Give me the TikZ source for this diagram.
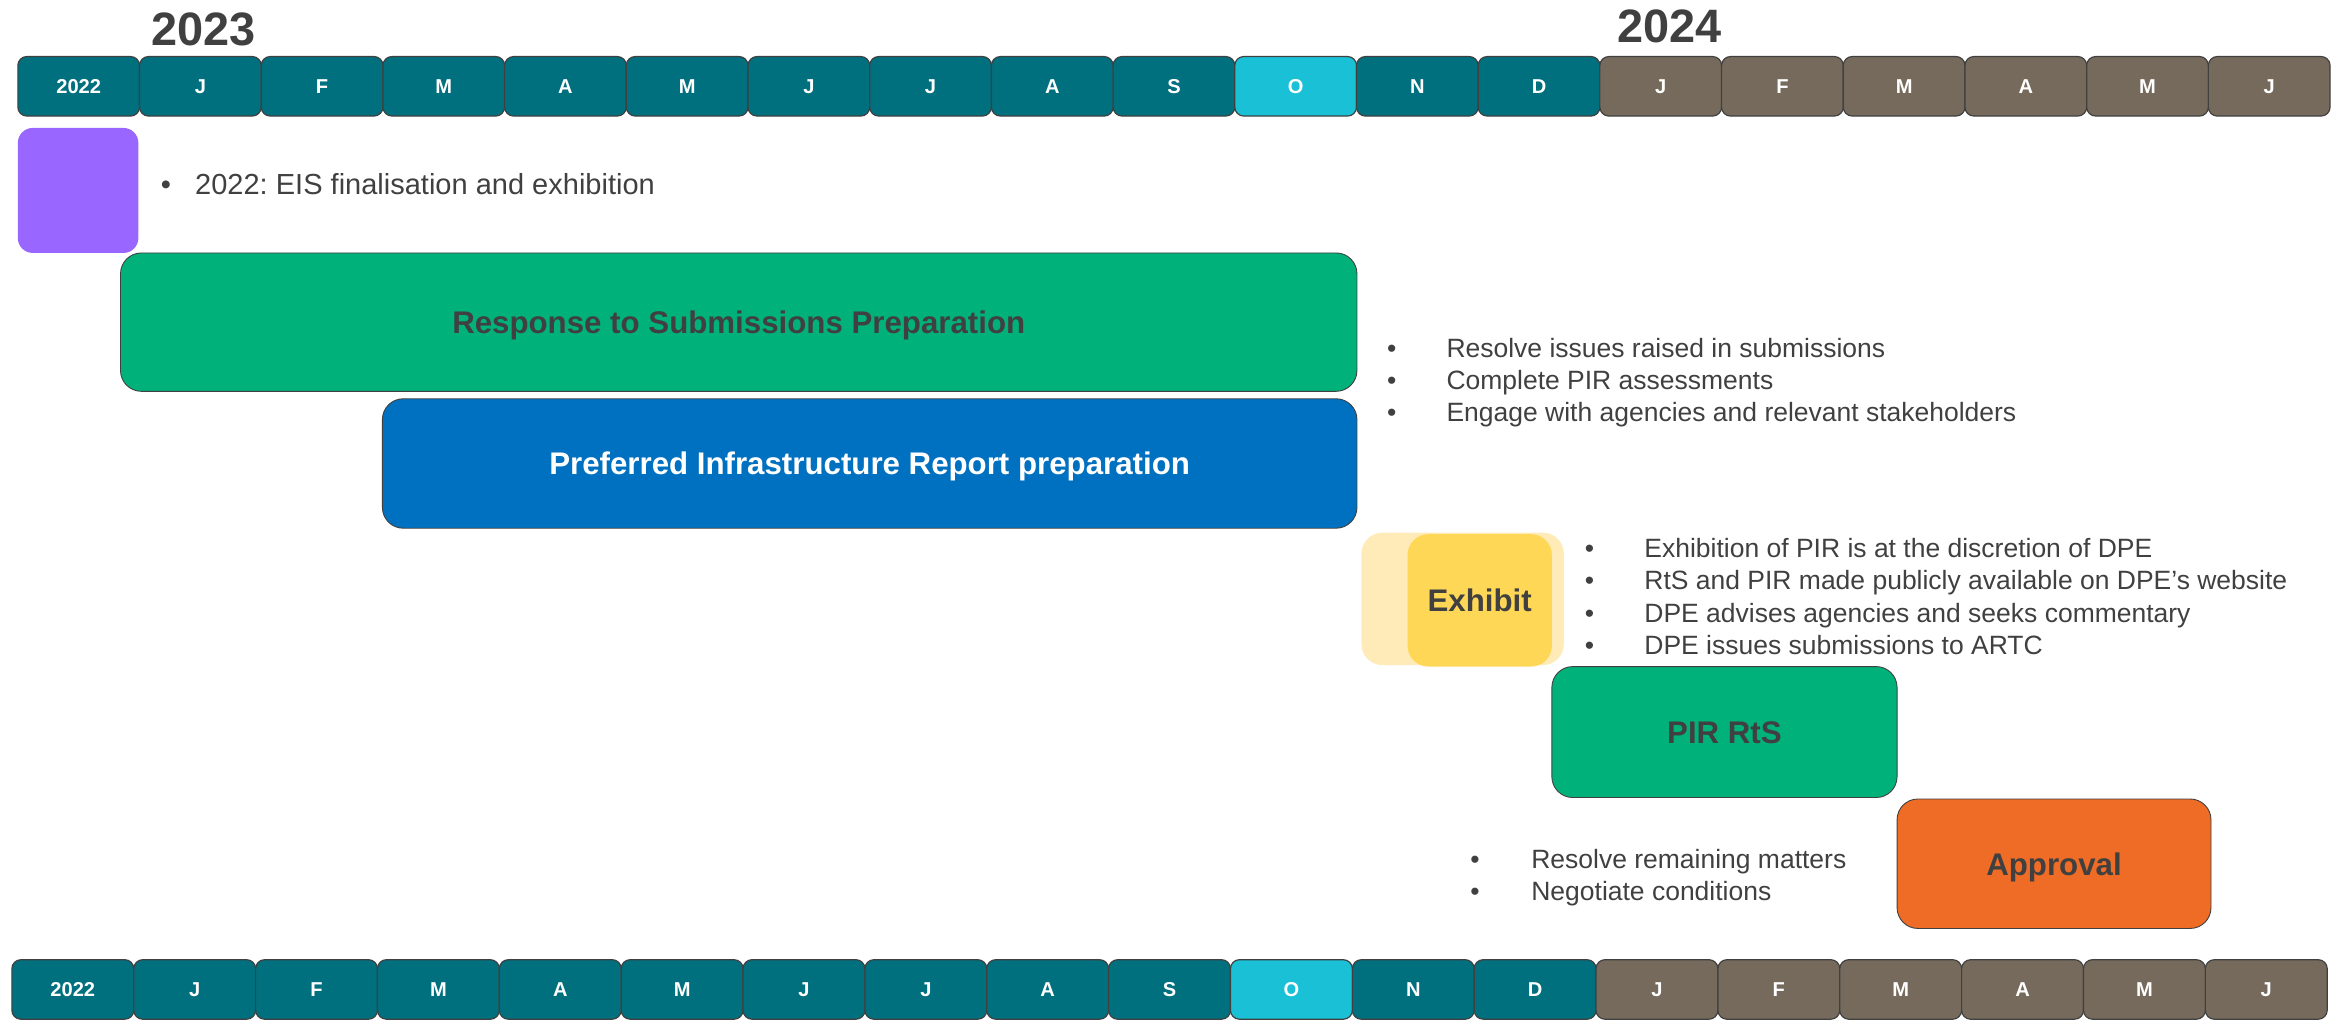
\documentclass[tikz,border=0pt]{standalone}
\usepackage{fontspec}
\setmainfont{Liberation Sans}
\frenchspacing
\definecolor{teal}{HTML}{00707F}
\definecolor{cyanhl}{HTML}{1AC1D6}
\definecolor{brownc}{HTML}{766A5C}
\definecolor{purplec}{HTML}{9966FF}
\definecolor{greenc}{HTML}{00B27A}
\definecolor{bluec}{HTML}{0070C0}
\definecolor{lightyel}{HTML}{FFEBB8}
\definecolor{yelc}{HTML}{FFD757}
\definecolor{orangec}{HTML}{EE6C25}
\definecolor{darktxt}{HTML}{404040}
\tikzset{
  month/.style={draw=darktxt, line width=0.8pt, rounded corners=6pt, minimum height=40pt,
    inner sep=0pt, text=white, font=\fontsize{13.5}{16}\selectfont\bfseries},
  phase/.style={draw=darktxt, line width=0.6pt, rounded corners=14pt, inner sep=0pt,
    text=darktxt, font=\fontsize{21}{25}\selectfont\bfseries, text height=15.2pt, text depth=0pt},
  yearlbl/.style={text=darktxt, font=\fontsize{31.5}{36}\selectfont\bfseries, inner sep=0pt},
  bullets/.style={text=darktxt, inner sep=0pt, anchor=west, align=left}
}
\begin{document}
\begin{tikzpicture}[x=1pt,y=-1pt]
\useasboundingbox (0,0) rectangle (1568,686);
% years
\node[yearlbl] (y23) at (137,20) {2023};
\node[yearlbl] (y24) at (1122,18) {2024};
% month bars
\foreach \lab [count=\i from 0] in {2022,J,F,M,A,M,J,J,A,S,O,N,D,J,F,M,A,M,J}{
  \pgfmathsetmacro{\cx}{12+81.79*(\i+0.5)}
  \pgfmathsetmacro{\bx}{8+81.9*(\i+0.5)}
  \ifnum\i=10 \def\cc{cyanhl}\else\ifnum\i>12 \def\cc{brownc}\else\def\cc{teal}\fi\fi
  \node[month, fill=\cc, minimum width=81.8pt] (t\i) at (\cx,58) {\lab};
  \node[month, fill=\cc, minimum width=81.9pt] (b\i) at (\bx,665) {\lab};
}
% purple 2022 box
\node[fill=purplec, rounded corners=10pt, minimum width=81pt, minimum height=84pt, inner sep=0pt] (eis) at (52.5,128) {};
\node[bullets, font=\fontsize{19.5}{23}\selectfont] (eistxt) at (108,126)
  {\begin{tabular}{@{}p{23pt}@{}l@{}}•&2022: EIS finalisation and exhibition\end{tabular}};
% response to submissions
\node[phase, fill=greenc, minimum width=831pt, minimum height=93pt] (rts) at (496.5,216.5) {Response to Submissions Preparation};
\node[phase, fill=bluec, text=white, minimum width=655pt, minimum height=87pt] (pir) at (584.5,311.5) {Preferred Infrastructure Report preparation};
\node[bullets, font=\fontsize{17.8}{21.6}\selectfont] (b1) at (932,257.5)
  {\begin{tabular}{@{}p{40pt}@{}l@{}}•&Resolve issues raised in submissions\\
  •&Complete PIR assessments\\
  •&Engage with agencies and relevant stakeholders\end{tabular}};
% exhibit
\node[fill=lightyel, rounded corners=14pt, minimum width=136pt, minimum height=89pt, inner sep=0pt] (exback) at (983,402.5) {};
\node[fill=yelc, rounded corners=14pt, minimum width=97pt, minimum height=89pt, inner sep=0pt,
  text=darktxt, font=\fontsize{21}{25}\selectfont\bfseries, text height=15.2pt, text depth=0pt] (ex) at (994.5,403.5) {Exhibit};
\node[bullets, font=\fontsize{17.8}{21.6}\selectfont] (b2) at (1065,403)
  {\begin{tabular}{@{}p{40pt}@{}l@{}}•&Exhibition of PIR is at the discretion of DPE\\
  •&RtS and PIR made publicly available on DPE’s website\\
  •&DPE advises agencies and seeks commentary\\
  •&DPE issues submissions to ARTC\end{tabular}};
% PIR RtS
\node[phase, fill=greenc, minimum width=232pt, minimum height=88pt] (pirrts) at (1159,492) {PIR RtS};
% approval
\node[phase, fill=orangec, minimum width=211pt, minimum height=87pt] (appr) at (1380.5,580.5) {Approval};
\node[bullets, font=\fontsize{17.8}{21.6}\selectfont] (b3) at (988,590)
  {\begin{tabular}{@{}p{41pt}@{}l@{}}•&Resolve remaining matters\\
  •&Negotiate conditions\end{tabular}};
\end{tikzpicture}
\end{document}
